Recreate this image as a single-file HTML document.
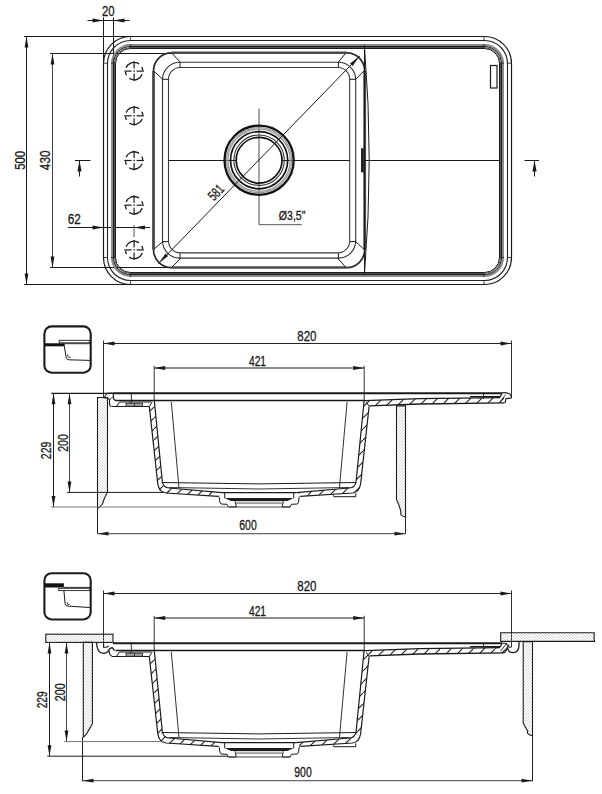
<!DOCTYPE html>
<html><head><meta charset="utf-8"><style>
html,body{margin:0;padding:0;background:#fff;}
svg{display:block;}
</style></head><body>
<svg width="602" height="794" viewBox="0 0 602 794">
<defs><pattern id="hw" patternUnits="userSpaceOnUse" width="11" height="11"><line x1="-1" y1="12" x2="12" y2="-1" stroke="#1c1c1c" stroke-width="1.1"/></pattern>
<pattern id="hfL" patternUnits="userSpaceOnUse" width="3" height="3"><line x1="-1" y1="-1" x2="4" y2="4" stroke="#b0b0b0" stroke-width="0.55"/></pattern>
<pattern id="hfR" patternUnits="userSpaceOnUse" width="3" height="3"><line x1="-1" y1="4" x2="4" y2="-1" stroke="#b0b0b0" stroke-width="0.55"/></pattern></defs>
<text x="102.05000000000001" y="15.8" font-family="Liberation Sans, sans-serif" font-size="14" fill="#1a1a1a" stroke="#1a1a1a" stroke-width="0.3" textLength="12.62" lengthAdjust="spacingAndGlyphs">20</text>
<line x1="87.5" y1="20.5" x2="129.5" y2="20.5" stroke="#1a1a1a" stroke-width="1"/>
<path d="M103.50,20.50 L92.50,22.40 L92.50,18.60 Z" fill="#1a1a1a"/>
<path d="M113.50,20.50 L124.50,18.60 L124.50,22.40 Z" fill="#1a1a1a"/>
<line x1="103.5" y1="17.5" x2="103.5" y2="63.5" stroke="#1a1a1a" stroke-width="1"/>
<line x1="113.5" y1="17.5" x2="113.5" y2="63.5" stroke="#1a1a1a" stroke-width="1"/>
<line x1="26.5" y1="36.5" x2="26.5" y2="284.5" stroke="#1a1a1a" stroke-width="1"/>
<path d="M26.50,36.50 L28.40,47.50 L24.60,47.50 Z" fill="#1a1a1a"/>
<path d="M26.50,284.50 L24.60,273.50 L28.40,273.50 Z" fill="#1a1a1a"/>
<line x1="24" y1="36.5" x2="131" y2="36.5" stroke="#1a1a1a" stroke-width="1"/>
<line x1="24" y1="284.5" x2="131" y2="284.5" stroke="#1a1a1a" stroke-width="1"/>
<text x="24.60" y="169.85" font-family="Liberation Sans, sans-serif" font-size="14" fill="#1a1a1a" stroke="#1a1a1a" stroke-width="0.3" textLength="18.99" lengthAdjust="spacingAndGlyphs" transform="rotate(-90.00 24.60 169.85)">500</text>
<line x1="52.5" y1="53.5" x2="52.5" y2="267.5" stroke="#444" stroke-width="1"/>
<path d="M52.50,53.50 L54.40,64.50 L50.60,64.50 Z" fill="#1a1a1a"/>
<path d="M52.50,267.50 L50.60,256.50 L54.40,256.50 Z" fill="#1a1a1a"/>
<line x1="50" y1="53.5" x2="172" y2="53.5" stroke="#1a1a1a" stroke-width="1"/>
<line x1="50" y1="267.5" x2="172" y2="267.5" stroke="#1a1a1a" stroke-width="1"/>
<text x="49.80" y="170.15" font-family="Liberation Sans, sans-serif" font-size="14" fill="#1a1a1a" stroke="#1a1a1a" stroke-width="0.3" textLength="19.59" lengthAdjust="spacingAndGlyphs" transform="rotate(-90.00 49.80 170.15)">430</text>
<line x1="75" y1="160.5" x2="90.5" y2="160.5" stroke="#1a1a1a" stroke-width="1"/>
<line x1="79.5" y1="160.5" x2="79.5" y2="176.5" stroke="#1a1a1a" stroke-width="1"/>
<path d="M79.50,160.50 L81.60,171.50 L77.40,171.50 Z" fill="#1a1a1a"/>
<line x1="524.5" y1="160.5" x2="539" y2="160.5" stroke="#1a1a1a" stroke-width="1"/>
<line x1="534.5" y1="160.5" x2="534.5" y2="176.5" stroke="#1a1a1a" stroke-width="1"/>
<path d="M534.50,160.50 L536.60,171.50 L532.40,171.50 Z" fill="#1a1a1a"/>
<text x="67.75" y="224.2" font-family="Liberation Sans, sans-serif" font-size="14" fill="#1a1a1a" stroke="#1a1a1a" stroke-width="0.3" textLength="13.03" lengthAdjust="spacingAndGlyphs">62</text>
<line x1="68" y1="227.5" x2="150" y2="227.5" stroke="#1a1a1a" stroke-width="1"/>
<path d="M103.50,227.50 L92.50,229.40 L92.50,225.60 Z" fill="#1a1a1a"/>
<path d="M134.00,227.50 L145.00,225.60 L145.00,229.40 Z" fill="#1a1a1a"/>
<line x1="134" y1="225" x2="134" y2="237" stroke="#555" stroke-width="1"/>
<rect x="103.5" y="36.5" width="408.0" height="248.0" rx="27" ry="27" fill="none" stroke="#1a1a1a" stroke-width="1.2"/>
<rect x="107.5" y="40.5" width="400.0" height="240.0" rx="23" ry="23" fill="none" stroke="#222" stroke-width="1.1"/>
<rect x="112" y="45" width="391" height="231" rx="18.5" ry="18.5" fill="none" stroke="#8a8a8a" stroke-width="2"/>
<rect x="113.5" y="46.5" width="388.0" height="228.0" rx="17" ry="17" fill="none" stroke="#1a1a1a" stroke-width="1"/>
<rect x="114.5" y="47.5" width="386.0" height="226.0" rx="16" ry="16" fill="none" stroke="#555" stroke-width="1"/>
<rect x="115.5" y="48.5" width="384.0" height="224.0" rx="15" ry="15" fill="none" stroke="#1a1a1a" stroke-width="1"/>
<line x1="130.6" y1="36" x2="130.6" y2="40.5" stroke="#1a1a1a" stroke-width="0.8"/>
<line x1="130.6" y1="44" x2="130.6" y2="49" stroke="#1a1a1a" stroke-width="0.8"/>
<line x1="130.6" y1="280.5" x2="130.6" y2="285" stroke="#1a1a1a" stroke-width="0.8"/>
<line x1="130.6" y1="272" x2="130.6" y2="277" stroke="#1a1a1a" stroke-width="0.8"/>
<line x1="484" y1="36" x2="484" y2="40.5" stroke="#1a1a1a" stroke-width="0.8"/>
<line x1="484" y1="44" x2="484" y2="49" stroke="#1a1a1a" stroke-width="0.8"/>
<line x1="484" y1="280.5" x2="484" y2="285" stroke="#1a1a1a" stroke-width="0.8"/>
<line x1="484" y1="272" x2="484" y2="277" stroke="#1a1a1a" stroke-width="0.8"/>
<line x1="103.5" y1="63.2" x2="107.5" y2="63.2" stroke="#1a1a1a" stroke-width="0.8"/>
<line x1="111" y1="63.2" x2="116" y2="63.2" stroke="#1a1a1a" stroke-width="0.8"/>
<line x1="507.5" y1="63.2" x2="511.5" y2="63.2" stroke="#1a1a1a" stroke-width="0.8"/>
<line x1="499" y1="63.2" x2="504" y2="63.2" stroke="#1a1a1a" stroke-width="0.8"/>
<line x1="103.5" y1="257.5" x2="107.5" y2="257.5" stroke="#1a1a1a" stroke-width="0.8"/>
<line x1="111" y1="257.5" x2="116" y2="257.5" stroke="#1a1a1a" stroke-width="0.8"/>
<line x1="507.5" y1="257.5" x2="511.5" y2="257.5" stroke="#1a1a1a" stroke-width="0.8"/>
<line x1="499" y1="257.5" x2="504" y2="257.5" stroke="#1a1a1a" stroke-width="0.8"/>
<rect x="490.5" y="65.5" width="6.5" height="22.5" fill="none" stroke="#1c1c1c" stroke-width="1.2"/>
<line x1="171.5" y1="52.8" x2="346.7" y2="52.8" stroke="#4a4a4a" stroke-width="2.5"/>
<line x1="171.5" y1="267.6" x2="346.7" y2="267.6" stroke="#4a4a4a" stroke-width="2.5"/>
<line x1="153.5" y1="70.8" x2="153.5" y2="249.60000000000002" stroke="#4a4a4a" stroke-width="2.8"/>
<line x1="364.7" y1="70.8" x2="364.7" y2="249.60000000000002" stroke="#4a4a4a" stroke-width="2.8"/>
<path d="M153.5,70.8 A18,18 0 0 1 171.5,52.8 M346.7,52.8 A18,18 0 0 1 364.7,70.8 M364.7,249.60000000000002 A18,18 0 0 1 346.7,267.6 M171.5,267.6 A18,18 0 0 1 153.5,249.60000000000002" stroke="#2a2a2a" stroke-width="1.7" fill="none"/>
<rect x="162.5" y="62.3" width="193.2" height="195.8" rx="17.3" ry="17.3" fill="none" stroke="#333" stroke-width="1.1"/>
<rect x="168.5" y="67.5" width="181.2" height="185.4" rx="11.8" ry="11.8" fill="none" stroke="#3a3a3a" stroke-width="1.1"/>
<line x1="171.4" y1="52.6" x2="180" y2="62" stroke="#1a1a1a" stroke-width="1"/>
<line x1="153.3" y1="70.6" x2="162.7" y2="79.3" stroke="#1a1a1a" stroke-width="1"/>
<line x1="346.2" y1="52.6" x2="338.4" y2="62" stroke="#1a1a1a" stroke-width="1"/>
<line x1="364.3" y1="70.6" x2="355.7" y2="79.3" stroke="#1a1a1a" stroke-width="1"/>
<line x1="153.3" y1="249.7" x2="162.7" y2="241.6" stroke="#1a1a1a" stroke-width="1"/>
<line x1="171.4" y1="267.7" x2="180" y2="259" stroke="#1a1a1a" stroke-width="1"/>
<line x1="364.3" y1="249.7" x2="355.7" y2="241.6" stroke="#1a1a1a" stroke-width="1"/>
<line x1="346.2" y1="267.7" x2="338.4" y2="259" stroke="#1a1a1a" stroke-width="1"/>
<line x1="180" y1="62" x2="180" y2="67.3" stroke="#1a1a1a" stroke-width="1"/>
<line x1="180" y1="253.4" x2="180" y2="259" stroke="#1a1a1a" stroke-width="1"/>
<line x1="338.4" y1="62" x2="338.4" y2="67.3" stroke="#1a1a1a" stroke-width="1"/>
<line x1="338.4" y1="253.4" x2="338.4" y2="259" stroke="#1a1a1a" stroke-width="1"/>
<line x1="162.7" y1="79.3" x2="168.4" y2="79.3" stroke="#1a1a1a" stroke-width="1"/>
<line x1="350" y1="79.3" x2="355.7" y2="79.3" stroke="#1a1a1a" stroke-width="1"/>
<line x1="162.7" y1="241.6" x2="168.4" y2="241.6" stroke="#1a1a1a" stroke-width="1"/>
<line x1="350" y1="241.6" x2="355.7" y2="241.6" stroke="#1a1a1a" stroke-width="1"/>
<line x1="364.5" y1="45" x2="364.5" y2="275" stroke="#1a1a1a" stroke-width="1"/>
<path d="M364.5,47 A1366.8,1366.8 0 0 1 364.5,273.5" stroke="#1a1a1a" stroke-width="1" fill="none"/>
<rect x="361" y="148.3" width="2.8" height="24" fill="#222"/>
<line x1="168.7" y1="160.5" x2="236.2" y2="160.5" stroke="#1a1a1a" stroke-width="1"/>
<line x1="282" y1="160.5" x2="349.6" y2="160.5" stroke="#1a1a1a" stroke-width="1"/>
<line x1="363.8" y1="160.5" x2="500" y2="160.5" stroke="#1a1a1a" stroke-width="1"/>
<line x1="259" y1="108.6" x2="259" y2="224.7" stroke="#6a6a6a" stroke-width="1.2"/>
<line x1="259" y1="224.7" x2="301.7" y2="224.7" stroke="#555" stroke-width="1"/>
<text x="278.84999999999997" y="220" font-family="Liberation Sans, sans-serif" font-size="12.2" fill="#1a1a1a" stroke="#1a1a1a" stroke-width="0.3" textLength="26.56" lengthAdjust="spacingAndGlyphs">Ø3,5"</text>
<circle cx="259.1" cy="160.2" r="31.1" fill="none" stroke="#9a9a9a" stroke-width="1.3"/>
<circle cx="259.1" cy="160.2" r="32.6" fill="none" stroke="#888" stroke-width="1"/>
<circle cx="259.1" cy="160.2" r="34.6" fill="none" stroke="#111" stroke-width="2.3"/>
<circle cx="259.1" cy="160.2" r="28.6" fill="none" stroke="#111" stroke-width="1.7"/>
<circle cx="259.1" cy="160.2" r="25.2" fill="none" stroke="#333" stroke-width="1.1"/>
<circle cx="259.1" cy="160.2" r="22.9" fill="none" stroke="#111" stroke-width="1.7"/>
<line x1="158.5" y1="263.5" x2="359.7" y2="56" stroke="#1a1a1a" stroke-width="1"/>
<path d="M158.50,263.50 L165.54,253.62 L168.13,256.12 Z" fill="#1a1a1a"/>
<path d="M359.70,56.00 L352.66,65.88 L350.07,63.38 Z" fill="#1a1a1a"/>
<text x="213.76" y="201.55" font-family="Liberation Sans, sans-serif" font-size="14" fill="#1a1a1a" stroke="#1a1a1a" stroke-width="0.3" textLength="16.16" lengthAdjust="spacingAndGlyphs" transform="rotate(-45.98 213.76 201.55)">581</text>
<circle cx="134.1" cy="71.1" r="8.7" fill="none" stroke="#1a1a1a" stroke-width="1.3" stroke-dasharray="15.6 4.1 3.5 4.1" transform="rotate(21 134.1 71.1)"/>
<line x1="124.3" y1="71.1" x2="131.6" y2="71.1" stroke="#1a1a1a" stroke-width="1.2"/>
<line x1="136.6" y1="71.1" x2="143.9" y2="71.1" stroke="#1a1a1a" stroke-width="1.2"/>
<line x1="134.1" y1="61.3" x2="134.1" y2="68.6" stroke="#1a1a1a" stroke-width="1.2"/>
<line x1="134.1" y1="73.6" x2="134.1" y2="80.89999999999999" stroke="#1a1a1a" stroke-width="1.2"/>
<rect x="133.4" y="70.39999999999999" width="1.4" height="1.4" fill="#1a1a1a"/>
<circle cx="134.1" cy="115.8" r="8.7" fill="none" stroke="#1a1a1a" stroke-width="1.3" stroke-dasharray="15.6 4.1 3.5 4.1" transform="rotate(21 134.1 115.8)"/>
<line x1="124.3" y1="115.8" x2="131.6" y2="115.8" stroke="#1a1a1a" stroke-width="1.2"/>
<line x1="136.6" y1="115.8" x2="143.9" y2="115.8" stroke="#1a1a1a" stroke-width="1.2"/>
<line x1="134.1" y1="106.0" x2="134.1" y2="113.3" stroke="#1a1a1a" stroke-width="1.2"/>
<line x1="134.1" y1="118.3" x2="134.1" y2="125.6" stroke="#1a1a1a" stroke-width="1.2"/>
<rect x="133.4" y="115.1" width="1.4" height="1.4" fill="#1a1a1a"/>
<circle cx="134.1" cy="160.5" r="8.7" fill="none" stroke="#1a1a1a" stroke-width="1.3" stroke-dasharray="15.6 4.1 3.5 4.1" transform="rotate(21 134.1 160.5)"/>
<line x1="124.3" y1="160.5" x2="131.6" y2="160.5" stroke="#1a1a1a" stroke-width="1.2"/>
<line x1="136.6" y1="160.5" x2="143.9" y2="160.5" stroke="#1a1a1a" stroke-width="1.2"/>
<line x1="134.1" y1="150.7" x2="134.1" y2="158.0" stroke="#1a1a1a" stroke-width="1.2"/>
<line x1="134.1" y1="163.0" x2="134.1" y2="170.3" stroke="#1a1a1a" stroke-width="1.2"/>
<rect x="133.4" y="159.8" width="1.4" height="1.4" fill="#1a1a1a"/>
<circle cx="134.1" cy="205.2" r="8.7" fill="none" stroke="#1a1a1a" stroke-width="1.3" stroke-dasharray="15.6 4.1 3.5 4.1" transform="rotate(21 134.1 205.2)"/>
<line x1="124.3" y1="205.2" x2="131.6" y2="205.2" stroke="#1a1a1a" stroke-width="1.2"/>
<line x1="136.6" y1="205.2" x2="143.9" y2="205.2" stroke="#1a1a1a" stroke-width="1.2"/>
<line x1="134.1" y1="195.39999999999998" x2="134.1" y2="202.7" stroke="#1a1a1a" stroke-width="1.2"/>
<line x1="134.1" y1="207.7" x2="134.1" y2="215.0" stroke="#1a1a1a" stroke-width="1.2"/>
<rect x="133.4" y="204.5" width="1.4" height="1.4" fill="#1a1a1a"/>
<circle cx="134.1" cy="249.9" r="8.7" fill="none" stroke="#1a1a1a" stroke-width="1.3" stroke-dasharray="15.6 4.1 3.5 4.1" transform="rotate(21 134.1 249.9)"/>
<line x1="124.3" y1="249.9" x2="131.6" y2="249.9" stroke="#1a1a1a" stroke-width="1.2"/>
<line x1="136.6" y1="249.9" x2="143.9" y2="249.9" stroke="#1a1a1a" stroke-width="1.2"/>
<line x1="134.1" y1="240.1" x2="134.1" y2="247.4" stroke="#1a1a1a" stroke-width="1.2"/>
<line x1="134.1" y1="252.4" x2="134.1" y2="259.7" stroke="#1a1a1a" stroke-width="1.2"/>
<rect x="133.4" y="249.20000000000002" width="1.4" height="1.4" fill="#1a1a1a"/>
<line x1="103.5" y1="343.5" x2="511.5" y2="343.5" stroke="#222" stroke-width="1"/>
<path d="M103.50,343.50 L114.50,341.60 L114.50,345.40 Z" fill="#1a1a1a"/>
<path d="M511.50,343.50 L500.50,345.40 L500.50,341.60 Z" fill="#1a1a1a"/>
<text x="297.25" y="341" font-family="Liberation Sans, sans-serif" font-size="14" fill="#1a1a1a" stroke="#1a1a1a" stroke-width="0.3" textLength="19.19" lengthAdjust="spacingAndGlyphs">820</text>
<line x1="154.5" y1="368" x2="364" y2="368" stroke="#1a1a1a" stroke-width="1.15"/>
<path d="M154.20,368.00 L165.20,366.10 L165.20,369.90 Z" fill="#1a1a1a"/>
<path d="M364.20,368.00 L353.20,369.90 L353.20,366.10 Z" fill="#1a1a1a"/>
<text x="248.95000000000002" y="366" font-family="Liberation Sans, sans-serif" font-size="14" fill="#1a1a1a" stroke="#1a1a1a" stroke-width="0.3" textLength="17.07" lengthAdjust="spacingAndGlyphs">421</text>
<line x1="154.2" y1="365.8" x2="154.2" y2="401" stroke="#333" stroke-width="1"/>
<line x1="364.2" y1="365.8" x2="364.2" y2="401" stroke="#333" stroke-width="1"/>
<line x1="103.5" y1="340.5" x2="103.5" y2="398" stroke="#333" stroke-width="1"/>
<line x1="511.5" y1="340.5" x2="511.5" y2="398" stroke="#333" stroke-width="1"/>
<rect x="44.4" y="326.4" width="46.3" height="46.3" rx="7.3" ry="7.3" fill="none" stroke="#1c1c1c" stroke-width="2.1"/>
<rect x="59.2" y="340.29999999999995" width="30.6" height="2.5" fill="none" stroke="#1c1c1c" stroke-width="0.9"/>
<line x1="45" y1="343.7" x2="89.8" y2="343.7" stroke="#1a1a1a" stroke-width="0.9"/>
<rect x="45" y="343.9" width="19.7" height="2.4" fill="#111"/>
<path d="M64.2,345.9 L66.4,358.4 Q66.8,359.79999999999995 69.2,359.79999999999995 L89.8,360.4" stroke="#1a1a1a" stroke-width="1" fill="none"/>
<path d="M67.4,354.4 L68.2,357.2 L70.6,357.59999999999997" stroke="#1a1a1a" stroke-width="0.8" fill="none"/>
<line x1="113" y1="393.3" x2="502" y2="393.3" stroke="#1a1a1a" stroke-width="2"/>
<line x1="115.5" y1="400.5" x2="365" y2="400.5" stroke="#1a1a1a" stroke-width="1.6"/>
<path d="M119.5,402 L151.5,402" stroke="#1a1a1a" stroke-width="1" fill="none"/>
<path d="M116.5,406.3 L119.5,402" stroke="#1a1a1a" stroke-width="1" fill="none"/>
<line x1="111.5" y1="406.5" x2="149.5" y2="406.5" stroke="#1a1a1a" stroke-width="1"/>
<rect x="126" y="403.2" width="16.5" height="3" fill="#aaa" stroke="#222" stroke-width="0.8"/>
<line x1="134.5" y1="403.2" x2="134.5" y2="406.2" stroke="#1a1a1a" stroke-width="0.8"/>
<path d="M131,392.5 L131.5,398 L131,403.5" stroke="#1a1a1a" stroke-width="0.9" fill="none"/>
<path d="M149.30,406.50 L152.00,402.00 L154.30,400.80 L162.30,481.50 L163.50,486.00 L168.00,488.00 L170.00,493.20 L166.00,493.00 L159.50,491.00 L157.80,484.00 Z" fill="url(#hw)" stroke="none"/>
<path d="M369.10,406.50 L366.40,402.00 L364.10,400.80 L356.10,481.50 L354.90,486.00 L350.40,488.00 L348.40,493.20 L352.40,493.00 L358.90,491.00 L360.60,484.00 Z" fill="url(#hw)" stroke="none"/>
<path d="M168.00,488.00 L220.00,492.40 L219.00,496.30 L166.00,493.00 Z" fill="url(#hw)" stroke="none"/>
<path d="M350.40,488.00 L298.40,492.40 L299.40,496.30 L352.40,493.00 Z" fill="url(#hw)" stroke="none"/>
<path d="M149.3,406.5 L152,402.3" stroke="#1a1a1a" stroke-width="1" fill="none"/>
<path d="M149.3,406.5 L157.8,484" stroke="#1a1a1a" stroke-width="1.2" fill="none"/>
<path d="M157.8,484 Q159.3,492.3 166,493 L218,496.3" stroke="#1a1a1a" stroke-width="1.2" fill="none"/>
<path d="M154.3,400.8 L162.3,481.5" stroke="#1a1a1a" stroke-width="1.2" fill="none"/>
<path d="M162.3,481.5 Q163.3,487.6 169,488 L222,492.6" stroke="#1a1a1a" stroke-width="1.2" fill="none"/>
<path d="M171.3,402 L179,488" stroke="#1a1a1a" stroke-width="0.9" fill="none"/>
<path d="M218,496.3 L219.4,497.5 L219.8,502 L221,504 L227,504.3 L228.3,507 L236,507" stroke="#1a1a1a" stroke-width="1" fill="none"/>
<path d="M224.7,492.6 L224.7,498.3" stroke="#1a1a1a" stroke-width="1" fill="none"/>
<path d="M235,501.2 L236.3,507" stroke="#1a1a1a" stroke-width="1" fill="none"/>
<path d="M369.09999999999997,406.5 L366.4,402.3" stroke="#1a1a1a" stroke-width="1" fill="none"/>
<path d="M369.09999999999997,406.5 L360.59999999999997,484" stroke="#1a1a1a" stroke-width="1.2" fill="none"/>
<path d="M360.59999999999997,484 Q359.09999999999997,492.3 352.4,493 L300.4,496.3" stroke="#1a1a1a" stroke-width="1.2" fill="none"/>
<path d="M364.09999999999997,400.8 L356.09999999999997,481.5" stroke="#1a1a1a" stroke-width="1.2" fill="none"/>
<path d="M356.09999999999997,481.5 Q355.09999999999997,487.6 349.4,488 L296.4,492.6" stroke="#1a1a1a" stroke-width="1.2" fill="none"/>
<path d="M347.09999999999997,402 L339.4,488" stroke="#1a1a1a" stroke-width="0.9" fill="none"/>
<path d="M300.4,496.3 L299.0,497.5 L298.59999999999997,502 L297.4,504 L291.4,504.3 L290.09999999999997,507 L282.4,507" stroke="#1a1a1a" stroke-width="1" fill="none"/>
<path d="M293.7,492.6 L293.7,498.3" stroke="#1a1a1a" stroke-width="1" fill="none"/>
<path d="M283.4,501.2 L282.09999999999997,507" stroke="#1a1a1a" stroke-width="1" fill="none"/>
<path d="M161.5,482.5 Q259,485.3 356.5,482.5" stroke="#1a1a1a" stroke-width="1" fill="none"/>
<path d="M169,487.5 Q259,490.5 349.4,487.5" stroke="#333" stroke-width="1" fill="none"/>
<path d="M333.4,495.2 L333.8,496.7 L355.8,496.7 L355.8,493.3" stroke="#1a1a1a" stroke-width="1" fill="none"/>
<line x1="222" y1="492.6" x2="296.4" y2="492.6" stroke="#1a1a1a" stroke-width="1.1"/>
<path d="M224.7,498.1 L293.7,498.1 L287.4,501 L231,501 Z" fill="#1c1c1c"/>
<line x1="235.5" y1="502.2" x2="283" y2="502.2" stroke="#777" stroke-width="0.8"/>
<line x1="235.8" y1="503.6" x2="282.6" y2="503.6" stroke="#777" stroke-width="0.8"/>
<line x1="228.3" y1="507" x2="290.1" y2="507" stroke="#444" stroke-width="1.1"/>
<path d="M365.00,400.60 L420.00,398.70 L500.00,397.70 L504.40,397.60 L504.40,402.80 L420.00,404.00 L369.50,405.90 Z" fill="url(#hw)" stroke="none"/>
<path d="M365,400.6 L420,398.7 L500,397.7" stroke="#1a1a1a" stroke-width="1.3" fill="none"/>
<path d="M369.5,405.9 L420,404 L504.4,402.8" stroke="#1a1a1a" stroke-width="1.3" fill="none"/>
<path d="M470,396.6 L500.3,396.6 L502,393.5" stroke="#1a1a1a" stroke-width="1.1" fill="none"/>
<line x1="483.5" y1="392.3" x2="483.5" y2="398.8" stroke="#1a1a1a" stroke-width="0.9"/>
<path d="M502,392.8 Q508.5,391.8 511,395.5 L511.2,398 L506,398.6 L505.2,402.6 L504.4,402.8" stroke="#1a1a1a" stroke-width="1.1" fill="none"/>
<line x1="500" y1="402.2" x2="505.5" y2="394.7" stroke="#1a1a1a" stroke-width="0.9"/>
<path d="M103.6,398 L107.3,393.2 L111.5,393 Q113.6,393.3 113.5,396 L113.3,397.5 Q113.8,400.3 116,400.6" stroke="#1a1a1a" stroke-width="1.1" fill="none"/>
<path d="M103.5,398 L107.5,398 L109.5,399.5 L109.5,404.5 Q109.7,406.4 111.5,406.5" stroke="#1a1a1a" stroke-width="1.1" fill="none"/>
<line x1="110" y1="399.5" x2="113" y2="396.8" stroke="#1a1a1a" stroke-width="0.9"/>
<path d="M97.5,397.5 L107.5,397.5 L107.5,492 C106.0,495 104.0,498 102.5,504.0 Q99.5,507.7 97.5,508.5 Z" fill="url(#hfL)" stroke="#1c1c1c" stroke-width="1.1"/>
<path d="M396.5,405.9 L405.5,405.9 L405.5,517 Q399.5,516 401.0,512 C399.5,505.6 398.0,502.6 396.5,499.6 Z" fill="url(#hfR)" stroke="#1c1c1c" stroke-width="1.1"/>
<line x1="97.5" y1="508.5" x2="97.5" y2="534" stroke="#222" stroke-width="1"/>
<line x1="405.5" y1="517" x2="405.5" y2="534" stroke="#222" stroke-width="1"/>
<line x1="53.5" y1="393.3" x2="53.5" y2="507" stroke="#1a1a1a" stroke-width="1"/>
<path d="M53.50,393.30 L55.40,404.30 L51.60,404.30 Z" fill="#1a1a1a"/>
<path d="M53.50,507.00 L51.60,496.00 L55.40,496.00 Z" fill="#1a1a1a"/>
<line x1="69.5" y1="393.3" x2="69.5" y2="492.4" stroke="#444" stroke-width="1"/>
<path d="M69.50,393.30 L71.40,404.30 L67.60,404.30 Z" fill="#1a1a1a"/>
<path d="M69.50,492.40 L67.60,481.40 L71.40,481.40 Z" fill="#1a1a1a"/>
<line x1="51.3" y1="393.3" x2="113" y2="393.3" stroke="#1a1a1a" stroke-width="1.2"/>
<line x1="67" y1="492.4" x2="164" y2="492.4" stroke="#1a1a1a" stroke-width="1"/>
<line x1="51" y1="507" x2="228" y2="507" stroke="#777" stroke-width="1"/>
<text x="51.00" y="459.15" font-family="Liberation Sans, sans-serif" font-size="14" fill="#1a1a1a" stroke="#1a1a1a" stroke-width="0.3" textLength="17.47" lengthAdjust="spacingAndGlyphs" transform="rotate(-90.00 51.00 459.15)">229</text>
<text x="67.90" y="451.75" font-family="Liberation Sans, sans-serif" font-size="14" fill="#1a1a1a" stroke="#1a1a1a" stroke-width="0.3" textLength="17.47" lengthAdjust="spacingAndGlyphs" transform="rotate(-90.00 67.90 451.75)">200</text>
<line x1="97.5" y1="533.7" x2="405.5" y2="533.7" stroke="#666" stroke-width="1.2"/>
<path d="M97.50,533.70 L108.50,531.80 L108.50,535.60 Z" fill="#1a1a1a"/>
<path d="M405.50,533.70 L394.50,535.60 L394.50,531.80 Z" fill="#1a1a1a"/>
<text x="239.25" y="530.1" font-family="Liberation Sans, sans-serif" font-size="14" fill="#1a1a1a" stroke="#1a1a1a" stroke-width="0.3" textLength="17.47" lengthAdjust="spacingAndGlyphs">600</text>
<line x1="103.5" y1="593.5" x2="511.5" y2="593.5" stroke="#222" stroke-width="1"/>
<path d="M103.50,593.50 L114.50,591.60 L114.50,595.40 Z" fill="#1a1a1a"/>
<path d="M511.50,593.50 L500.50,595.40 L500.50,591.60 Z" fill="#1a1a1a"/>
<text x="297.25" y="591" font-family="Liberation Sans, sans-serif" font-size="14" fill="#1a1a1a" stroke="#1a1a1a" stroke-width="0.3" textLength="19.19" lengthAdjust="spacingAndGlyphs">820</text>
<line x1="154.5" y1="618" x2="364" y2="618" stroke="#1a1a1a" stroke-width="1.15"/>
<path d="M154.20,618.00 L165.20,616.10 L165.20,619.90 Z" fill="#1a1a1a"/>
<path d="M364.20,618.00 L353.20,619.90 L353.20,616.10 Z" fill="#1a1a1a"/>
<text x="248.95000000000002" y="616" font-family="Liberation Sans, sans-serif" font-size="14" fill="#1a1a1a" stroke="#1a1a1a" stroke-width="0.3" textLength="17.07" lengthAdjust="spacingAndGlyphs">421</text>
<line x1="154.2" y1="615.8" x2="154.2" y2="651" stroke="#333" stroke-width="1"/>
<line x1="364.2" y1="615.8" x2="364.2" y2="651" stroke="#333" stroke-width="1"/>
<line x1="103.5" y1="590.5" x2="103.5" y2="647.3" stroke="#333" stroke-width="1"/>
<line x1="511.5" y1="590.5" x2="511.5" y2="647.3" stroke="#333" stroke-width="1"/>
<rect x="44.4" y="573.2" width="46.3" height="46.3" rx="7.3" ry="7.3" fill="none" stroke="#1c1c1c" stroke-width="2.1"/>
<rect x="45" y="583.3000000000001" width="18.9" height="4.2" fill="#111"/>
<line x1="63.9" y1="587.4000000000001" x2="89.8" y2="587.4000000000001" stroke="#1a1a1a" stroke-width="0.9"/>
<rect x="58.7" y="588.3000000000001" width="31.1" height="2.3" fill="none" stroke="#1c1c1c" stroke-width="0.9"/>
<path d="M63.9,590.6 L65.1,603.8000000000001 Q65.5,606.1 67.9,606.1 L89.8,607.5" stroke="#1a1a1a" stroke-width="1" fill="none"/>
<path d="M67,602.0 L67.6,604.4000000000001 L69.7,604.5" stroke="#1a1a1a" stroke-width="0.8" fill="none"/>
<line x1="113" y1="643.3" x2="502" y2="643.3" stroke="#1a1a1a" stroke-width="2"/>
<line x1="115.5" y1="650.5" x2="365" y2="650.5" stroke="#1a1a1a" stroke-width="1.6"/>
<path d="M119.5,652 L151.5,652" stroke="#1a1a1a" stroke-width="1" fill="none"/>
<path d="M116.5,656.3 L119.5,652" stroke="#1a1a1a" stroke-width="1" fill="none"/>
<line x1="111.5" y1="656.5" x2="149.5" y2="656.5" stroke="#1a1a1a" stroke-width="1"/>
<rect x="126" y="653.2" width="16.5" height="3" fill="#aaa" stroke="#222" stroke-width="0.8"/>
<line x1="134.5" y1="653.2" x2="134.5" y2="656.2" stroke="#1a1a1a" stroke-width="0.8"/>
<path d="M131,642.5 L131.5,648 L131,653.5" stroke="#1a1a1a" stroke-width="0.9" fill="none"/>
<path d="M149.30,656.50 L152.00,652.00 L154.30,650.80 L162.30,731.50 L163.50,736.00 L168.00,738.00 L170.00,743.20 L166.00,743.00 L159.50,741.00 L157.80,734.00 Z" fill="url(#hw)" stroke="none"/>
<path d="M369.10,656.50 L366.40,652.00 L364.10,650.80 L356.10,731.50 L354.90,736.00 L350.40,738.00 L348.40,743.20 L352.40,743.00 L358.90,741.00 L360.60,734.00 Z" fill="url(#hw)" stroke="none"/>
<path d="M168.00,738.00 L220.00,742.40 L219.00,746.30 L166.00,743.00 Z" fill="url(#hw)" stroke="none"/>
<path d="M350.40,738.00 L298.40,742.40 L299.40,746.30 L352.40,743.00 Z" fill="url(#hw)" stroke="none"/>
<path d="M149.3,656.5 L152,652.3" stroke="#1a1a1a" stroke-width="1" fill="none"/>
<path d="M149.3,656.5 L157.8,734" stroke="#1a1a1a" stroke-width="1.2" fill="none"/>
<path d="M157.8,734 Q159.3,742.3 166,743 L218,746.3" stroke="#1a1a1a" stroke-width="1.2" fill="none"/>
<path d="M154.3,650.8 L162.3,731.5" stroke="#1a1a1a" stroke-width="1.2" fill="none"/>
<path d="M162.3,731.5 Q163.3,737.6 169,738 L222,742.6" stroke="#1a1a1a" stroke-width="1.2" fill="none"/>
<path d="M171.3,652 L179,738" stroke="#1a1a1a" stroke-width="0.9" fill="none"/>
<path d="M218,746.3 L219.4,747.5 L219.8,752 L221,754 L227,754.3 L228.3,757 L236,757" stroke="#1a1a1a" stroke-width="1" fill="none"/>
<path d="M224.7,742.6 L224.7,748.3" stroke="#1a1a1a" stroke-width="1" fill="none"/>
<path d="M235,751.2 L236.3,757" stroke="#1a1a1a" stroke-width="1" fill="none"/>
<path d="M369.09999999999997,656.5 L366.4,652.3" stroke="#1a1a1a" stroke-width="1" fill="none"/>
<path d="M369.09999999999997,656.5 L360.59999999999997,734" stroke="#1a1a1a" stroke-width="1.2" fill="none"/>
<path d="M360.59999999999997,734 Q359.09999999999997,742.3 352.4,743 L300.4,746.3" stroke="#1a1a1a" stroke-width="1.2" fill="none"/>
<path d="M364.09999999999997,650.8 L356.09999999999997,731.5" stroke="#1a1a1a" stroke-width="1.2" fill="none"/>
<path d="M356.09999999999997,731.5 Q355.09999999999997,737.6 349.4,738 L296.4,742.6" stroke="#1a1a1a" stroke-width="1.2" fill="none"/>
<path d="M347.09999999999997,652 L339.4,738" stroke="#1a1a1a" stroke-width="0.9" fill="none"/>
<path d="M300.4,746.3 L299.0,747.5 L298.59999999999997,752 L297.4,754 L291.4,754.3 L290.09999999999997,757 L282.4,757" stroke="#1a1a1a" stroke-width="1" fill="none"/>
<path d="M293.7,742.6 L293.7,748.3" stroke="#1a1a1a" stroke-width="1" fill="none"/>
<path d="M283.4,751.2 L282.09999999999997,757" stroke="#1a1a1a" stroke-width="1" fill="none"/>
<path d="M161.5,732.5 Q259,735.3 356.5,732.5" stroke="#1a1a1a" stroke-width="1" fill="none"/>
<path d="M169,737.5 Q259,740.5 349.4,737.5" stroke="#333" stroke-width="1" fill="none"/>
<path d="M333.4,745.2 L333.8,746.7 L355.8,746.7 L355.8,743.3" stroke="#1a1a1a" stroke-width="1" fill="none"/>
<line x1="222" y1="742.6" x2="296.4" y2="742.6" stroke="#1a1a1a" stroke-width="1.1"/>
<path d="M224.7,748.1 L293.7,748.1 L287.4,751 L231,751 Z" fill="#1c1c1c"/>
<line x1="235.5" y1="752.2" x2="283" y2="752.2" stroke="#777" stroke-width="0.8"/>
<line x1="235.8" y1="753.6" x2="282.6" y2="753.6" stroke="#777" stroke-width="0.8"/>
<line x1="228.3" y1="757" x2="290.1" y2="757" stroke="#444" stroke-width="1.1"/>
<path d="M365.00,650.60 L420.00,648.70 L500.00,647.70 L504.40,647.60 L504.40,652.80 L420.00,654.00 L369.50,655.90 Z" fill="url(#hw)" stroke="none"/>
<path d="M365,650.6 L420,648.7 L500,647.7" stroke="#1a1a1a" stroke-width="1.3" fill="none"/>
<path d="M369.5,655.9 L420,654 L504.4,652.8" stroke="#1a1a1a" stroke-width="1.3" fill="none"/>
<path d="M470,646.6 L500.3,646.6 L502,643.5" stroke="#1a1a1a" stroke-width="1.1" fill="none"/>
<line x1="483.5" y1="642.3" x2="483.5" y2="648.8" stroke="#1a1a1a" stroke-width="0.9"/>
<path d="M504.4,652.8 L507.7,648 Q508,652.6 513,652.6 Q519,652.6 519,645 L519,641.5" stroke="#1a1a1a" stroke-width="1.3" fill="none"/>
<path d="M502,643.3 L506,643.3 L509.3,647.3 L511.1,647.3" stroke="#1a1a1a" stroke-width="1.1" fill="none"/>
<line x1="500.5" y1="651.3" x2="506.7" y2="643.3" stroke="#1a1a1a" stroke-width="0.9"/>
<line x1="502.3" y1="653" x2="509.3" y2="644.7" stroke="#1a1a1a" stroke-width="0.9"/>
<rect x="45.8" y="634.2" width="67.2" height="8.2" fill="url(#hfL)" stroke="#1c1c1c" stroke-width="1.1"/>
<path d="M594.6,632.7 L500.7,632.7 L500.7,641.4 L594.6,641.4 Q593.4,637 594.6,632.7" fill="url(#hfL)" stroke="#1c1c1c" stroke-width="1.1"/>
<path d="M96.6,642.5 Q96.8,653 103.3,653.3 Q107.5,653.3 108.8,650 Q110,647.5 112.5,647.8 L114.5,650.5" stroke="#1a1a1a" stroke-width="1.3" fill="none"/>
<path d="M103.6,642.5 L103.6,647.3 L106.3,647.3 L108.8,646.3" stroke="#1a1a1a" stroke-width="1.1" fill="none"/>
<path d="M109.2,650.5 Q109.3,655.5 111.8,655.8" stroke="#1a1a1a" stroke-width="1.1" fill="none"/>
<path d="M83.3,642.4 L92.4,642.4 L92.4,723.6 C90.9,726.6 88.9,729.6 87.4,732.5 Q85.3,736.2 83.3,737 Z" fill="url(#hfL)" stroke="#1c1c1c" stroke-width="1.1"/>
<path d="M523.2,641.6 L532.5,641.6 L532.5,735.7 Q526.2,734.7 527.7,730.7 C526.2,729 524.7,726 523.2,723 Z" fill="url(#hfR)" stroke="#1c1c1c" stroke-width="1.1"/>
<line x1="82.5" y1="737" x2="82.5" y2="781.5" stroke="#222" stroke-width="1"/>
<line x1="532.5" y1="735.7" x2="532.5" y2="781.5" stroke="#222" stroke-width="1"/>
<line x1="49.5" y1="642.5" x2="49.5" y2="756.2" stroke="#1a1a1a" stroke-width="1"/>
<path d="M49.50,642.50 L51.40,653.50 L47.60,653.50 Z" fill="#1a1a1a"/>
<path d="M49.50,756.20 L47.60,745.20 L51.40,745.20 Z" fill="#1a1a1a"/>
<line x1="66.5" y1="642.5" x2="66.5" y2="741.6" stroke="#444" stroke-width="1"/>
<path d="M66.50,642.50 L68.40,653.50 L64.60,653.50 Z" fill="#1a1a1a"/>
<path d="M66.50,741.60 L64.60,730.60 L68.40,730.60 Z" fill="#1a1a1a"/>
<line x1="64" y1="741.6" x2="164" y2="741.6" stroke="#777" stroke-width="1"/>
<line x1="47.3" y1="756.2" x2="228" y2="756.2" stroke="#1a1a1a" stroke-width="1"/>
<text x="47.50" y="708.35" font-family="Liberation Sans, sans-serif" font-size="14" fill="#1a1a1a" stroke="#1a1a1a" stroke-width="0.3" textLength="16.97" lengthAdjust="spacingAndGlyphs" transform="rotate(-90.00 47.50 708.35)">229</text>
<text x="64.60" y="701.35" font-family="Liberation Sans, sans-serif" font-size="14" fill="#1a1a1a" stroke="#1a1a1a" stroke-width="0.3" textLength="17.98" lengthAdjust="spacingAndGlyphs" transform="rotate(-90.00 64.60 701.35)">200</text>
<line x1="82.5" y1="780.7" x2="532.5" y2="780.7" stroke="#666" stroke-width="1.2"/>
<path d="M82.50,780.70 L93.50,778.80 L93.50,782.60 Z" fill="#1a1a1a"/>
<path d="M532.50,780.70 L521.50,782.60 L521.50,778.80 Z" fill="#1a1a1a"/>
<text x="294.25" y="776.7" font-family="Liberation Sans, sans-serif" font-size="14" fill="#1a1a1a" stroke="#1a1a1a" stroke-width="0.3" textLength="17.47" lengthAdjust="spacingAndGlyphs">900</text>
</svg></body></html>
